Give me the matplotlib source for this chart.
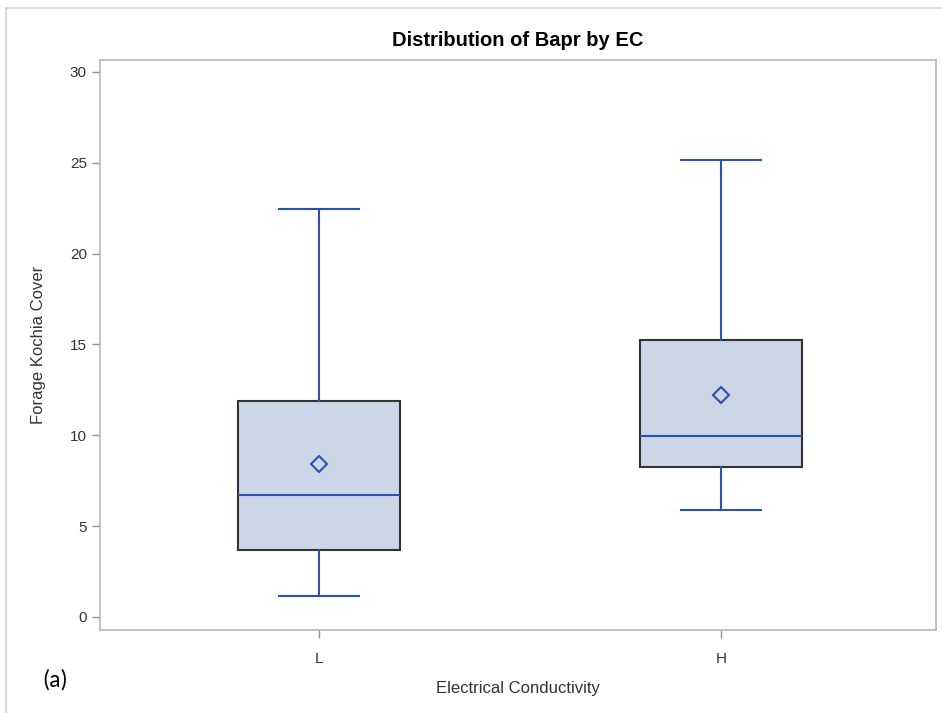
import matplotlib
matplotlib.use("Agg")
import matplotlib.pyplot as plt
from matplotlib.lines import Line2D

categories = ["L", "H"]
whislo = [1.15, 5.9]
q1 = [3.7, 8.25]
med = [6.7, 9.95]
mean = [8.42, 12.22]
q3 = [11.9, 15.25]
whishi = [22.45, 25.15]
yticks = [0, 5, 10, 15, 20, 25, 30]

plt.rcParams['font.family'] = ['Liberation Sans', 'DejaVu Sans']

W, H = 942, 713
fig = plt.figure(figsize=(W/100, H/100), dpi=100)
ax = fig.add_axes([100/W, 1-630/H, 836/W, 570/H])

blue = '#2D52AE'
stats = []
for i, c in enumerate(categories):
    stats.append(dict(label=c, whislo=whislo[i], q1=q1[i], med=med[i],
                      q3=q3[i], whishi=whishi[i], mean=mean[i], fliers=[]))

ax.bxp(stats, positions=[1, 2], widths=0.403, patch_artist=True, showmeans=True,
       boxprops=dict(facecolor='#CBD6E6', edgecolor='#333333', linewidth=1.5),
       medianprops=dict(color=blue, linewidth=1.5),
       whiskerprops=dict(color=blue, linewidth=1.5),
       capprops=dict(color=blue, linewidth=1.5),
       capwidths=0.2,
       meanprops=dict(marker='D', markerfacecolor='none', markeredgecolor=blue,
                      markersize=8, markeredgewidth=1.5))

ax.set_xlim(0.455, 2.535)
ax.set_ylim(-0.72, 30.66)
ax.set_yticks(yticks)
ax.set_xticks([1, 2])
ax.set_xticklabels(categories)
for s in ax.spines.values():
    s.set_color('#B4B8BC')
    s.set_linewidth(1.2)
ax.tick_params(axis='both', colors='#909090', length=6, width=1, labelcolor='#333333', labelsize=11)
ax.tick_params(axis='x', pad=10)

ax.set_title("Distribution of Bapr by EC", fontsize=14.5, fontweight='bold', pad=10)
ax.set_ylabel("Forage Kochia Cover", fontsize=12, color='#333333', labelpad=17)
ax.set_xlabel("Electrical Conductivity", fontsize=12, color='#333333', labelpad=11)

fig.text(42/W, 1-680/H, "(a)", fontsize=17, va='center', ha='left', family=['Carlito', 'Liberation Sans', 'DejaVu Sans'])

fig.add_artist(Line2D([6/W, 1], [1-8/H, 1-8/H], color='#D0D0D0', linewidth=1.2))
fig.add_artist(Line2D([6/W, 6/W], [0, 1-8/H], color='#D0D0D0', linewidth=1.2))

fig.savefig("out.png", dpi=100)
